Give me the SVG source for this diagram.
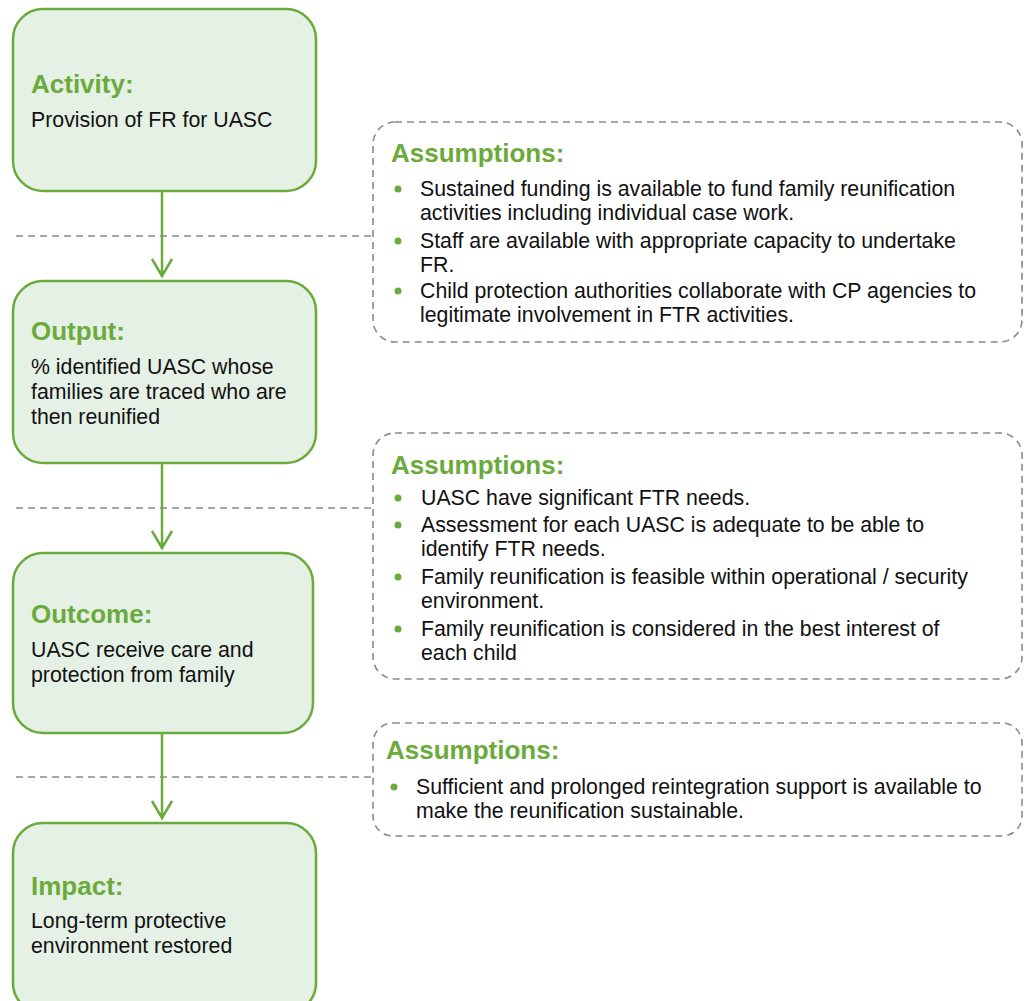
<svg xmlns="http://www.w3.org/2000/svg" width="1024" height="1001" viewBox="0 0 1024 1001">
<defs>
<style>
.node{fill:#e6f1e6;stroke:#6aab3c;stroke-width:2.5}
.asm{fill:#ffffff;stroke:#8a8a8a;stroke-width:1.6;stroke-dasharray:7 5}
.head{font-family:"Liberation Sans",Arial,sans-serif;font-weight:bold;font-size:26px;fill:#6aab3c}
.body{font-family:"Liberation Sans",Arial,sans-serif;font-size:21.3px;fill:#111111}
.bul{fill:#6aab3c}
.arrow{fill:none;stroke:#6aab3c;stroke-width:2.5}
.sep{fill:none;stroke:#8a8a8a;stroke-width:1.6;stroke-dasharray:7 5}
</style>
</defs>
<g id="connectors">
<line class="sep" x1="16" y1="236" x2="373" y2="236"/>
<line class="sep" x1="16" y1="508" x2="373" y2="508"/>
<line class="sep" x1="16" y1="777" x2="373" y2="777"/>
<path class="arrow" d="M162 191 V276 M152 259 L162 276 L172 259"/>
<path class="arrow" d="M162 463 V548 M152 531 L162 548 L172 531"/>
<path class="arrow" d="M162 733 V818 M152 801 L162 818 L172 801"/>
</g>
<g id="activity">
<rect class="node" x="13" y="9" width="303" height="182" rx="30"/>
<text class="head" x="31" y="93">Activity:</text>
<text class="body" x="31" y="127">Provision of FR for UASC</text>
</g>
<g id="output">
<rect class="node" x="13" y="281" width="303" height="182" rx="30"/>
<text class="head" x="31" y="340">Output:</text>
<text class="body" x="31" y="374">% identified UASC whose</text>
<text class="body" x="31" y="399">families are traced who are</text>
<text class="body" x="31" y="424">then reunified</text>
</g>
<g id="outcome">
<rect class="node" x="13" y="553" width="300" height="180" rx="30"/>
<text class="head" x="31" y="623">Outcome:</text>
<text class="body" x="31" y="657">UASC receive care and</text>
<text class="body" x="31" y="682">protection from family</text>
</g>
<g id="impact">
<rect class="node" x="13" y="823" width="303" height="190" rx="30"/>
<text class="head" x="31" y="895">Impact:</text>
<text class="body" x="31" y="928">Long-term protective</text>
<text class="body" x="31" y="953">environment restored</text>
</g>
<g id="assumptions1">
<rect class="asm" x="373" y="122" width="649" height="220" rx="22"/>
<text class="head" x="391" y="162">Assumptions:</text>
<circle class="bul" cx="398" cy="189" r="3.5"/>
<text class="body" x="420" y="196">Sustained funding is available to fund family reunification</text>
<text class="body" x="420" y="220">activities including individual case work.</text>
<circle class="bul" cx="398" cy="241" r="3.5"/>
<text class="body" x="420" y="248">Staff are available with appropriate capacity to undertake</text>
<text class="body" x="420" y="272">FR.</text>
<circle class="bul" cx="398" cy="291" r="3.5"/>
<text class="body" x="420" y="298">Child protection authorities collaborate with CP agencies to</text>
<text class="body" x="420" y="322">legitimate involvement in FTR activities.</text>
</g>
<g id="assumptions2">
<rect class="asm" x="373" y="433" width="649" height="246" rx="22"/>
<text class="head" x="391" y="474">Assumptions:</text>
<circle class="bul" cx="398" cy="498" r="3.5"/>
<text class="body" x="421" y="505">UASC have significant FTR needs.</text>
<circle class="bul" cx="398" cy="525" r="3.5"/>
<text class="body" x="421" y="532">Assessment for each UASC is adequate to be able to</text>
<text class="body" x="421" y="556">identify FTR needs.</text>
<circle class="bul" cx="398" cy="577" r="3.5"/>
<text class="body" x="421" y="584">Family reunification is feasible within operational / security</text>
<text class="body" x="421" y="608">environment.</text>
<circle class="bul" cx="398" cy="629" r="3.5"/>
<text class="body" x="421" y="636">Family reunification is considered in the best interest of</text>
<text class="body" x="421" y="660">each child</text>
</g>
<g id="assumptions3">
<rect class="asm" x="373" y="723" width="649" height="113" rx="20"/>
<text class="head" x="386" y="759">Assumptions:</text>
<circle class="bul" cx="394" cy="787" r="3.5"/>
<text class="body" x="416" y="794">Sufficient and prolonged reintegration support is available to</text>
<text class="body" x="416" y="818">make the reunification sustainable.</text>
</g>
</svg>
